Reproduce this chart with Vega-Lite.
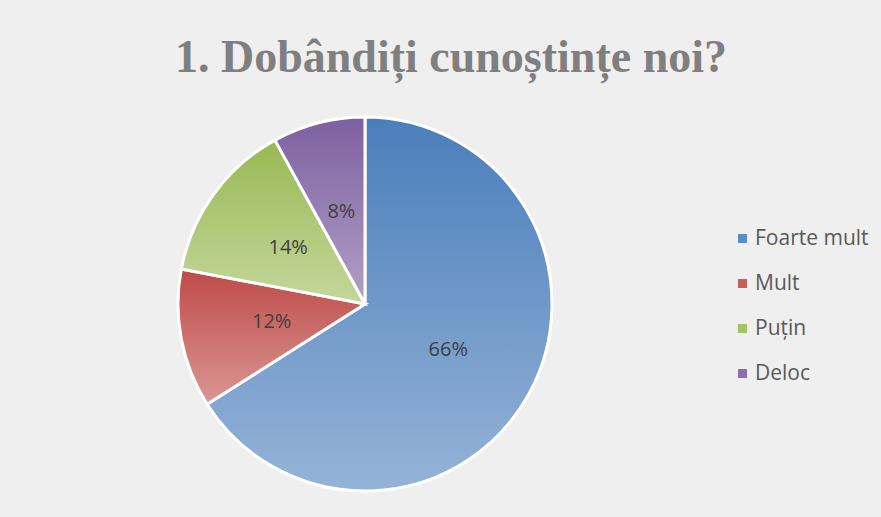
{
  "$schema": "https://vega.github.io/schema/vega-lite/v6.json",
  "width": 714,
  "height": 426,
  "autosize": {"type": "none"},
  "padding": {"top": 91, "left": 8, "right": 159, "bottom": 0},
  "background": "#efefef",
  "title": {
    "text": "1. Dobândiți cunoștințe noi?",
    "font": "Liberation Serif",
    "fontSize": 46,
    "fontWeight": "bold",
    "color": "#7f7f7f",
    "anchor": "middle",
    "baseline": "alphabetic",
    "offset": -27,
    "dx": 86
  },
  "data": {
    "values": [
      {"cat": "Foarte mult", "idx": 1, "pct": 66, "label": "66%"},
      {"cat": "Mult", "idx": 2, "pct": 12, "label": "12%"},
      {"cat": "Puțin", "idx": 3, "pct": 14, "label": "14%"},
      {"cat": "Deloc", "idx": 4, "pct": 8, "label": "8%"}
    ]
  },
  "config": {"view": {"stroke": null}},
  "layer": [
    {
      "mark": {"type": "square", "opacity": 0, "size": 81},
      "encoding": {
        "color": {
          "field": "cat",
          "type": "nominal",
          "sort": ["Foarte mult", "Mult", "Puțin", "Deloc"],
          "scale": {
            "domain": ["Foarte mult", "Mult", "Puțin", "Deloc"],
            "range": ["#5b8cc8", "#c85f5c", "#a4c266", "#8a70ab"]
          },
          "legend": {
            "title": null,
            "orient": "none",
            "legendX": 724,
            "legendY": 137,
            "symbolType": "square",
            "symbolSize": 81,
            "symbolOpacity": 1,
            "symbolStrokeWidth": 0,
            "labelFont": "Open Sans",
            "labelFontSize": 21,
            "labelColor": "#595959",
            "labelOffset": 2,
            "rowPadding": 23,
            "padding": 0
          }
        }
      }
    },
    {
      "mark": {"type": "arc", "outerRadius": 187, "stroke": "white", "strokeWidth": 3},
      "encoding": {
        "theta": {"field": "pct", "type": "quantitative", "stack": true},
        "order": {"field": "idx", "type": "quantitative"},
        "detail": {"field": "cat", "type": "nominal"},
        "fill": {
          "condition": [
            {"test": "datum.cat === 'Mult'", "value": {"gradient": "linear", "x1": 0, "y1": 0, "x2": 0, "y2": 1, "stops": [{"offset": 0, "color": "#be4b48"}, {"offset": 1, "color": "#da9694"}]}},
            {"test": "datum.cat === 'Puțin'", "value": {"gradient": "linear", "x1": 0, "y1": 0, "x2": 0, "y2": 1, "stops": [{"offset": 0, "color": "#98b954"}, {"offset": 1, "color": "#c4d79b"}]}},
            {"test": "datum.cat === 'Deloc'", "value": {"gradient": "linear", "x1": 0, "y1": 0, "x2": 0, "y2": 1, "stops": [{"offset": 0, "color": "#7d60a0"}, {"offset": 1, "color": "#b1a0c7"}]}}
          ],
          "value": {"gradient": "linear", "x1": 0, "y1": 0, "x2": 0, "y2": 1, "stops": [{"offset": 0, "color": "#4a7ebb"}, {"offset": 1, "color": "#95b3d7"}]}
        }
      }
    },
    {
      "mark": {"type": "text", "radius": 95, "font": "Open Sans", "fontSize": 20, "color": "#404040"},
      "encoding": {
        "theta": {"field": "pct", "type": "quantitative", "stack": true},
        "order": {"field": "idx", "type": "quantitative"},
        "detail": {"field": "cat", "type": "nominal"},
        "text": {"field": "label", "type": "nominal"}
      }
    }
  ]
}
